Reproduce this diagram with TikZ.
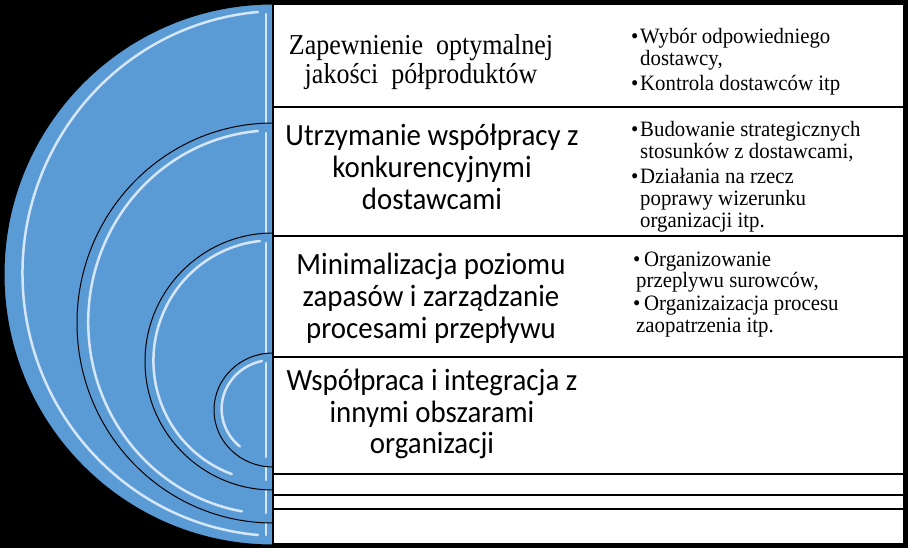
\documentclass[tikz,border=0pt]{standalone}
\usepackage{fontspec}
\setmainfont{Liberation Serif}
\newfontfamily\calib[FakeStretch=0.935]{Carlito}
\newfontfamily\tallserif[FakeStretch=0.9]{Liberation Serif}
\newfontfamily\listserif[FakeStretch=0.95]{Liberation Serif}
\definecolor{sblue}{HTML}{5B9BD5}
\definecolor{hlblue}{HTML}{D4E6F8}
\begin{document}
\begin{tikzpicture}[x=1bp,y=-1bp,
  halfdisc/.style={fill=sblue,draw=black,line width=1bp},
  hilite/.style={draw=hlblue,line width=2.5bp,line cap=round},
  rowbox/.style={fill=white,draw=black,line width=2bp},
  lefttxt/.style={align=center,text=black},
  listtxt/.style={align=left,anchor=west,inner sep=0pt,font=\listserif\fontsize{22}{22}\selectfont}]
\fill[black] (0,0) rectangle (908,548);
\useasboundingbox (0,0) rectangle (908,548);
% half discs
\path[halfdisc] (273,4) arc[start angle=270,end angle=90,x radius=269,y radius=270.5] -- cycle;
\draw[hilite] (258,12) arc[start angle=265,end angle=95,x radius=258,y radius=262.5];
\draw[hilite] (266,14) -- (266,535);
\path[halfdisc] (273,123) arc[start angle=270,end angle=90,x radius=196,y radius=200] -- cycle;
\draw[hilite] (258,131) arc[start angle=265,end angle=100,x radius=186,y radius=192];
\draw[hilite] (266,133) -- (266,513);
\path[halfdisc] (273,233) arc[start angle=270,end angle=90,x radius=128,y radius=128.5] -- cycle;
\draw[hilite] (260,241) arc[start angle=264,end angle=110,x radius=119,y radius=120.5];
\draw[hilite] (266,243) -- (266,480);
\path[halfdisc] (273,353) arc[start angle=270,end angle=90,x radius=59,y radius=57] -- cycle;
\draw[hilite] (262,361) arc[start angle=258,end angle=130,x radius=51,y radius=49];
\draw[hilite] (266,363) -- (266,457);
% rows
\path[rowbox] (273,4) rectangle (904,107);
\path[rowbox] (273,107) rectangle (904,236);
\path[rowbox] (273,236) rectangle (904,357);
\path[rowbox] (273,357) rectangle (904,474);
\path[rowbox] (273,474) rectangle (904,495);
\path[rowbox] (273,495) rectangle (904,509);
\path[rowbox] (273,509) rectangle (904,544);
% left texts
\node[lefttxt,font=\tallserif\fontsize{29}{30}\selectfont] (t1) at (421,62) {Zapewnienie\ \ optymalnej\\jakości\ \ półproduktów};
\node[lefttxt,font=\calib\fontsize{31}{32}\selectfont] (t2) at (432,167) {Utrzymanie współpracy z\\konkurencyjnymi\\dostawcami};
\node[lefttxt,font=\calib\fontsize{31}{32}\selectfont] (t3) at (431,298) {Minimalizacja poziomu\\zapasów i zarządzanie\\procesami przepływu};
\node[lefttxt,font=\calib\fontsize{31}{32}\selectfont] (t4) at (432,414) {Współpraca i integracja z\\innymi obszarami\\organizacji};
% lists
\node[listtxt] (l1) at (631,61.5) {\makebox[9bp][l]{•}Wybór odpowiedniego\\\hspace*{9bp}dostawcy,\\[3bp]\makebox[9bp][l]{•}Kontrola dostawców itp};
\node[listtxt] (l2) at (631,176.5) {\makebox[9bp][l]{•}Budowanie strategicznych\\\hspace*{9bp}stosunków z dostawcami,\\[3bp]\makebox[9bp][l]{•}Działania na rzecz\\\hspace*{9bp}poprawy wizerunku\\\hspace*{9bp}organizacji itp.};
\node[listtxt] (l3) at (633,294.5) {\makebox[11bp][l]{•}Organizowanie\\\hspace*{3bp}przeplywu surowców,\\[1bp]\makebox[11bp][l]{•}Organizaizacja procesu\\\hspace*{3bp}zaopatrzenia itp.};
\end{tikzpicture}
\end{document}
